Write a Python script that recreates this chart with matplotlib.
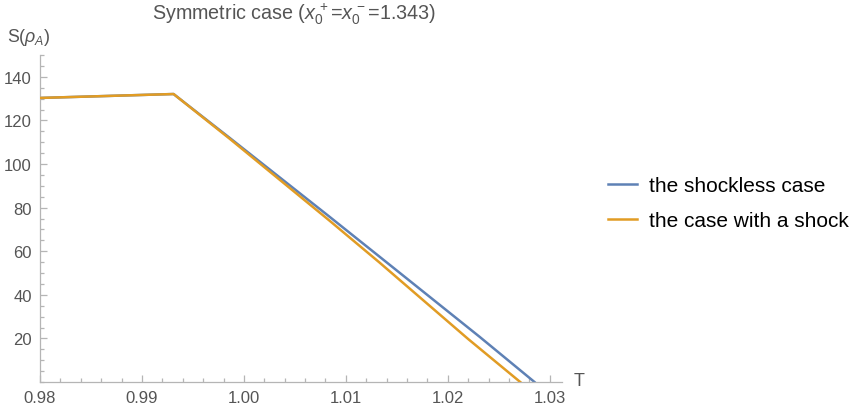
import numpy as np
import matplotlib
matplotlib.use("Agg")
import matplotlib.pyplot as plt
from matplotlib.ticker import MultipleLocator, FixedLocator

plt.rcParams['font.family'] = ['Liberation Sans', 'DejaVu Sans']
plt.rcParams['mathtext.fontset'] = 'custom'
plt.rcParams['mathtext.rm'] = 'Liberation Sans'
plt.rcParams['mathtext.it'] = 'Liberation Sans:italic'

# data
T_shockless = [0.98, 0.9931, 0.9986, 1.0084, 1.0133, 1.0231, 1.0285]
S_shockless = [130.3, 132.1, 112.0, 75.8, 57.5, 20.8, 0.0]
T_shock = [0.98, 0.9931, 0.9986, 1.0084, 1.0133, 1.0220, 1.0271]
S_shock = [130.3, 132.1, 111.6, 74.0, 54.8, 19.7, 0.0]

xticks = [0.98, 0.99, 1.00, 1.01, 1.02, 1.03]
yticks = [20, 40, 60, 80, 100, 120, 140]
labels = ["the shockless case", "the case with a shock"]

blue = "#5E81B5"
orange = "#E19C24"
gray = "#b5b5b5"
textgray = "#555555"

fig = plt.figure(figsize=(8.53, 4.14), dpi=100)
ax = fig.add_axes([40/853, 31/414, 522/853, 327/414])

ax.plot(T_shockless, S_shockless, color=blue, lw=1.8, label=labels[0], zorder=2)
ax.plot(T_shock, S_shock, color=orange, lw=1.8, label=labels[1], zorder=3)

ax.set_xlim(0.98, 1.0312)
ax.set_ylim(0, 150)

for s in ['top', 'right']:
    ax.spines[s].set_visible(False)
for s in ['left', 'bottom']:
    ax.spines[s].set_color(gray)
    ax.spines[s].set_linewidth(0.9)

ax.xaxis.set_major_locator(FixedLocator(xticks))
ax.xaxis.set_minor_locator(MultipleLocator(0.002))
ax.yaxis.set_major_locator(FixedLocator(yticks))
ax.yaxis.set_minor_locator(MultipleLocator(5))
ax.set_xticklabels(["%.2f" % v for v in xticks])
ax.set_yticklabels([str(v) for v in yticks])
ax.tick_params(which='both', direction='in', color=gray, width=0.9,
               labelcolor=textgray, labelsize=12)
ax.tick_params(which='major', length=5, pad=6)
ax.tick_params(which='minor', length=3)

fig.text(574/853, 1 - 382/414, "T", color=textgray, fontsize=13, va='center', ha='left')
fig.text(7/853, 1 - 38/414, r"S($\rho_A$)", color=textgray, fontsize=12.8, va='center', ha='left')
fig.text(294/853, 1 - 14/414, r"Symmetric case ($x_0^{\,+}$=$x_0^{\,-}$=1.343)",
         color=textgray, fontsize=14.2, ha='center', va='center')

leg = ax.legend(loc='center left', bbox_to_anchor=(589/853, 1 - 204/414),
                bbox_transform=fig.transFigure, frameon=False, fontsize=15.0,
                handlelength=1.42, handletextpad=0.55, labelspacing=0.78)

fig.savefig("out.png", dpi=100)
